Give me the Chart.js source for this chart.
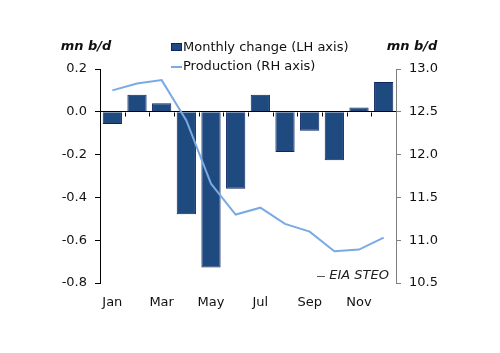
<!DOCTYPE html>
<html>
<head>
<meta charset="utf-8">
<script src="https://cdn.jsdelivr.net/npm/chart.js@4.4.0/dist/chart.umd.min.js"></script>
<style>
html,body{margin:0;padding:0;background:#fff;}
#wrap{width:500px;height:353px;}
</style>
</head>
<body>
<div id="wrap"><canvas id="c" width="500" height="353"></canvas></div>
<script>
const months = ['Jan','Feb','Mar','Apr','May','Jun','Jul','Aug','Sep','Oct','Nov','Dec'];
const monthlyChange = [-0.057, 0.08, 0.04, -0.479, -0.727, -0.359, 0.08, -0.188, -0.089, -0.226, 0.02, 0.139];
const production = [12.75, 12.83, 12.87, 12.40, 11.66, 11.30, 11.38, 11.19, 11.10, 10.87, 10.89, 11.03];
const leftTicks = [0.2, 0.0, -0.2, -0.4, -0.6, -0.8];
const rightTicks = [13.0, 12.5, 12.0, 11.5, 11.0, 10.5];
const legendLabels = ['Monthly change (LH axis)', 'Production (RH axis)'];
const unitLabel = 'mn b/d';
const sourceLabel = 'EIA STEO';

const FONT = '"DejaVu Sans", Verdana, sans-serif';
const BAR_FILL = '#1f4a7f';
const BAR_EDGE = '#0e2563';
const LINE_COL = '#7aaae4';

const annot = {
  id: 'annot',
  afterDraw(chart) {
    const ctx = chart.ctx;
    const x = chart.scales.x, y = chart.scales.y;
    ctx.save();
    // category boundary ticks on the zero line
    const y0 = Math.round(y.getPixelForValue(0)) + 0.5;
    const step = (x.right - x.left) / months.length;
    ctx.strokeStyle = '#000';
    ctx.lineWidth = 1;
    for (let i = 1; i < months.length; i++) {
      const px = Math.round(x.left + i * step) + 0.5;
      ctx.beginPath(); ctx.moveTo(px, y0); ctx.lineTo(px, y0 + 4); ctx.stroke();
    }
    // legend
    ctx.fillStyle = BAR_FILL; ctx.strokeStyle = BAR_EDGE;
    ctx.fillRect(171, 43, 11, 8); ctx.strokeRect(171.5, 43.5, 10, 7);
    ctx.strokeStyle = LINE_COL; ctx.lineWidth = 2;
    ctx.beginPath(); ctx.moveTo(171, 67); ctx.lineTo(182, 67); ctx.stroke();
    ctx.fillStyle = '#111';
    ctx.font = '13px ' + FONT;
    ctx.textBaseline = 'middle'; ctx.textAlign = 'left';
    ctx.fillText(legendLabels[0], 183, 47.5);
    ctx.fillText(legendLabels[1], 183, 66.5);
    // unit labels
    ctx.font = 'italic bold 13px ' + FONT;
    ctx.textAlign = 'center';
    ctx.fillText(unitLabel, 86, 47);
    ctx.fillText(unitLabel, 412, 47);
    // source
    ctx.font = 'italic 13px ' + FONT;
    ctx.textAlign = 'right';
    ctx.fillStyle = '#222';
    ctx.fillText(sourceLabel, 389, 276);
    ctx.strokeStyle = '#555'; ctx.lineWidth = 1;
    ctx.beginPath(); ctx.moveTo(317, 276.5); ctx.lineTo(325, 276.5); ctx.stroke();
    ctx.restore();
  }
};

new Chart(document.getElementById('c'), {
  data: {
    labels: months,
    datasets: [
      {
        type: 'line', label: legendLabels[1], data: production, yAxisID: 'y2',
        borderColor: LINE_COL, borderWidth: 2, pointRadius: 0, tension: 0, order: 1
      },
      {
        type: 'bar', label: legendLabels[0], data: monthlyChange, yAxisID: 'y',
        backgroundColor: BAR_FILL, borderColor: BAR_EDGE, borderWidth: 1,
        barPercentage: 0.78, categoryPercentage: 1, order: 2
      }
    ]
  },
  options: {
    responsive: false, animation: false,
    layout: { padding: { top: 69, left: 0, right: 0, bottom: 0 } },
    plugins: { legend: { display: false }, tooltip: { enabled: false } },
    scales: {
      x: {
        offset: true,
        grid: { display: false, drawTicks: false },
        border: { display: false },
        ticks: {
          autoSkip: false, maxRotation: 0, padding: 12, color: '#111',
          font: { family: FONT, size: 13 },
          callback: (v, i) => (i % 2 === 0 ? months[i] : '')
        },
        afterFit: s => { s.height = 70; }
      },
      y: {
        position: 'left', min: -0.8, max: 0.2,
        afterBuildTicks: s => { s.ticks = leftTicks.map(v => ({ value: v })); },
        grid: {
          drawOnChartArea: true, tickLength: 5, tickColor: '#000',
          color: c => (c.tick && Math.abs(c.tick.value) < 1e-9 ? '#000' : 'rgba(0,0,0,0)'),
          lineWidth: 1
        },
        border: { display: true, color: '#000', width: 1 },
        ticks: {
          padding: 8, color: '#111', font: { family: FONT, size: 13 },
          callback: v => v.toFixed(1)
        },
        afterFit: s => { s.width = 100; }
      },
      y2: {
        position: 'right', min: 10.5, max: 13.0,
        afterBuildTicks: s => { s.ticks = rightTicks.map(v => ({ value: v })); },
        grid: { drawOnChartArea: false, tickLength: 5, tickColor: '#808080', color: '#808080' },
        border: { display: true, color: '#808080', width: 1 },
        ticks: {
          padding: 8, color: '#111', font: { family: FONT, size: 13 },
          callback: v => v.toFixed(1)
        },
        afterFit: s => { s.width = 104; }
      }
    }
  },
  plugins: [annot]
});
</script>
</body>
</html>
